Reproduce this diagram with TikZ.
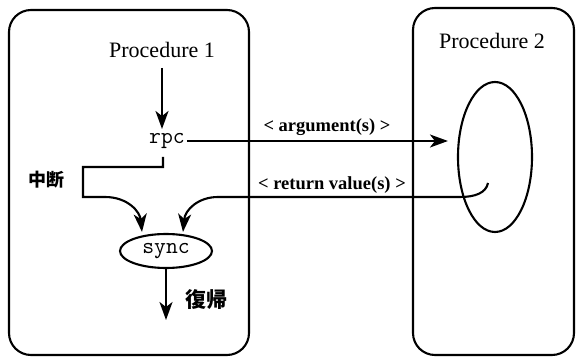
\documentclass[tikz,border=0pt]{standalone}
\usepackage{fontspec}
\setmainfont{Liberation Serif}
\newfontfamily\jpfam{Noto Sans CJK JP}
\usetikzlibrary{arrows.meta,shapes.geometric,calc}
\begin{document}
\begin{tikzpicture}[x=1pt,y=-1pt,
  line width=2.1pt,
  procbox/.style={draw,rounded corners=22pt,minimum width=#1},
  title/.style={font=\fontsize{22}{24}\selectfont},
  mono/.style={font=\ttfamily\fontsize{23}{25}\selectfont,inner sep=1pt},
  lbl/.style={font=\bfseries\fontsize{18.5}{20}\selectfont,inner sep=0pt},
  jp/.style={font=\jpfam\bfseries\fontsize{18}{20}\selectfont,inner sep=0pt},
  arr/.style={-{Stealth[length=18pt,width=13pt,inset=5pt]}}]
\useasboundingbox (0,0) rectangle (576,358);

% the two procedures
\node[procbox=240pt,minimum height=345pt] (box1) at (129,182.5) {};
\node[procbox=161pt,minimum height=347pt] (box2) at (493.5,181.5) {};
\node[title] (p1) at (162,50) {Procedure 1};
\node[title] (p2) at (492,41) {Procedure 2};

% call site and synchronisation point
\node[mono] (rpc) at (167,141) {rpc};
\node[mono,draw,ellipse,minimum width=92pt,minimum height=34pt,inner sep=0pt] (sync) at (166,251) {sync};
\node[draw,ellipse,minimum width=74pt,minimum height=150pt,inner sep=0pt] (callee) at (495,157) {};

% labels
\node[lbl] (argl) at (327,127) {< argument(s) >};
\node[lbl] (retl) at (332,185) {< return value(s) >};
\node[jp] (brk) at (46,180) {中断};
\node[jp,font=\jpfam\bfseries\fontsize{21}{22}\selectfont] (rsm) at (206,300) {復帰};

% helper points
\coordinate (retstart) at (488,183);
\coordinate (resume) at (166,320);

% flow
\draw[arr] (162,68) -- (162,129);
\draw[arr] (rpc.east) -- ([xshift=-9pt]rpc.east -| callee.west);
\draw[arr] (163,157) -- (163,167) -| (83,197) -- (105,197)
  .. controls (128,197) and (140,212) .. ([xshift=-24pt,yshift=1pt]sync.north);
\draw[arr] (retstart) .. controls (486,193) and (475,197) .. (460,197) -- (218,197)
  .. controls (198,197) and (185,210) .. ([xshift=17pt,yshift=1pt]sync.north);
\draw[arr] (sync.south) -- (resume);
\end{tikzpicture}
\end{document}
